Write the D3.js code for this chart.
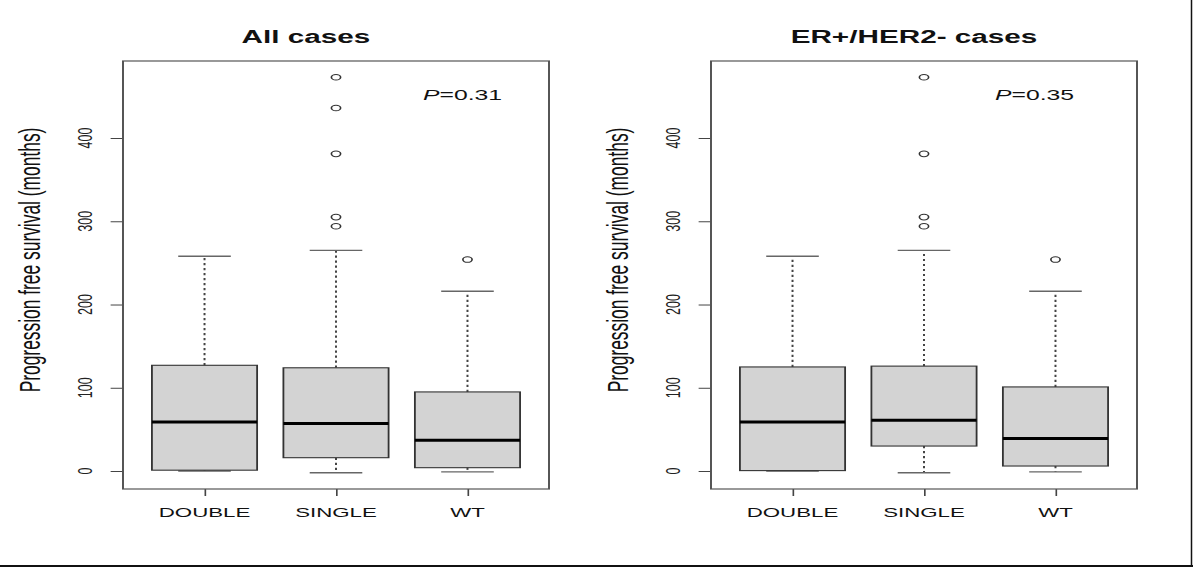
<!doctype html>
<html>
    <head>
        <title>PFS boxplots</title>
        <script src="https://d3js.org/d3.v7.min.js"></script>
        <style>
            body { margin: 0; background: #fff; }
            text { font-family: "Liberation Sans", Arial, sans-serif; }
        </style>
    </head>

    <body>
        <div id="my_dataviz"></div>
        <script>
            // data: [lower whisker, q1, median, q3, upper whisker]
            var categories = ["DOUBLE", "SINGLE", "WT"];
            var yTicks = [0, 100, 200, 300, 400];

            var allStats = [
                [0, 1, 59, 127, 258],
                [-2, 16, 57, 124, 265],
                [-1, 4, 37, 95, 216]
            ];
            var allOutliers = [[], [473, 436, 381, 305, 294], [254]];

            var erStats = [
                [0, 0.5, 59, 125, 258],
                [-2, 30, 61, 126, 265],
                [-1, 6, 39, 101, 216]
            ];
            var erOutliers = [[], [473, 381, 305, 294], [254]];

            var panels = [
                {title: "All cases", pval: "0.31", stats: allStats, outliers: allOutliers},
                {title: "ER+/HER2- cases", pval: "0.35", stats: erStats, outliers: erOutliers}
            ];

            // the original picture is stretched sideways, so draw in a narrow
            // coordinate system and scale it horizontally
            var SX = 1.65;
            var W = 1193, H = 567;

            // frame positions in final pixels
            var frames = [
                {left: 123, right: 549, titleX: 306, pX: 423},
                {left: 711, right: 1137, titleX: 914, pX: 995}
            ];
            var frameTop = 61, frameBottom = 489;

            var svg = d3.select("#my_dataviz")
                .append("svg")
                    .attr("width", W)
                    .attr("height", H);

            // outer border lines of the picture
            svg.append("line").attr("x1", 0).attr("x2", W).attr("y1", 566).attr("y2", 566)
                .attr("stroke", "#111").attr("stroke-width", 2);
            svg.append("line").attr("x1", 1191.5).attr("x2", 1191.5).attr("y1", 0).attr("y2", H)
                .attr("stroke", "#111").attr("stroke-width", 1.5);

            var root = svg.append("g")
                .attr("transform", "scale(" + SX + ",1)");

            var y = d3.scaleLinear()
                .domain([-21.6, 492.5])
                .range([frameBottom, frameTop]);

            panels.forEach(function(p, i) {
                var f = frames[i];
                var left = f.left / SX, right = f.right / SX;

                // R style: groups at 1..3, box width 0.8, staple half of that
                var x = d3.scaleLinear()
                    .domain([0.38, 3.62])
                    .range([left, right]);
                var boxW = x(1.8) - x(1);
                var capW = boxW / 2;

                var g = root.append("g");

                // title
                g.append("text")
                    .attr("x", f.titleX / SX)
                    .attr("y", 43)
                    .attr("text-anchor", "middle")
                    .attr("font-weight", "bold")
                    .attr("font-size", 18)
                    .attr("fill", "#111")
                    .text(p.title);

                // y axis
                var yAxis = g.append("g")
                    .attr("transform", "translate(" + left + ",0)")
                    .call(d3.axisLeft(y).tickValues(yTicks).tickSize(7.5).tickFormat(""));
                yAxis.select(".domain").remove();
                yAxis.selectAll(".tick line").attr("stroke", "#444");

                g.selectAll(".ylab")
                    .data(yTicks)
                    .enter()
                    .append("text")
                        .attr("class", "ylab")
                        .attr("transform", function(d) {
                            return "translate(" + ((f.left - 31) / SX) + "," + y(d) + ") rotate(-90)";
                        })
                        .attr("text-anchor", "middle")
                        .attr("font-size", 12.5)
                        .attr("fill", "#222")
                        .text(function(d) { return d; });

                // y axis title
                g.append("text")
                    .attr("transform", "translate(" + ((f.left - 83) / SX) + "," + 260 + ") rotate(-90)")
                    .attr("text-anchor", "middle")
                    .attr("font-size", 17.4)
                    .attr("fill", "#111")
                    .text("Progression free survival (months)");

                // x axis
                var xAxis = g.append("g")
                    .attr("transform", "translate(0," + frameBottom + ")")
                    .call(d3.axisBottom(x).tickValues([1, 2, 3]).tickSize(7).tickFormat(""));
                xAxis.select(".domain").remove();
                xAxis.selectAll(".tick line").attr("stroke", "#444");

                g.selectAll(".xlab")
                    .data(categories)
                    .enter()
                    .append("text")
                        .attr("class", "xlab")
                        .attr("x", function(d, k) { return x(k + 1); })
                        .attr("y", 517)
                        .attr("text-anchor", "middle")
                        .attr("font-size", 13.5)
                        .attr("fill", "#111")
                        .text(function(d) { return d; });

                // boxes
                p.stats.forEach(function(s, k) {
                    var cx = x(k + 1);

                    // dashed whiskers
                    g.append("line")
                        .attr("x1", cx).attr("x2", cx)
                        .attr("y1", y(s[3])).attr("y2", y(s[4]))
                        .attr("stroke", "#444").attr("stroke-width", 1.2)
                        .attr("stroke-dasharray", "2.2,2.8");
                    g.append("line")
                        .attr("x1", cx).attr("x2", cx)
                        .attr("y1", y(s[1])).attr("y2", y(s[0]))
                        .attr("stroke", "#444").attr("stroke-width", 1.2)
                        .attr("stroke-dasharray", "2.2,2.8");

                    // staples
                    [s[0], s[4]].forEach(function(v) {
                        g.append("line")
                            .attr("x1", cx - capW / 2).attr("x2", cx + capW / 2)
                            .attr("y1", y(v)).attr("y2", y(v))
                            .attr("stroke", "#666").attr("stroke-width", 1.4);
                    });

                    // box
                    g.append("rect")
                        .attr("x", cx - boxW / 2)
                        .attr("y", y(s[3]))
                        .attr("width", boxW)
                        .attr("height", y(s[1]) - y(s[3]))
                        .attr("fill", "#d3d3d3")
                        .attr("stroke", "#333")
                        .attr("stroke-width", 1.1);

                    // median
                    g.append("line")
                        .attr("x1", cx - boxW / 2).attr("x2", cx + boxW / 2)
                        .attr("y1", y(s[2])).attr("y2", y(s[2]))
                        .attr("stroke", "#000").attr("stroke-width", 3);

                    // outliers
                    g.selectAll(".out" + k)
                        .data(p.outliers[k])
                        .enter()
                        .append("circle")
                            .attr("cx", cx)
                            .attr("cy", function(d) { return y(d); })
                            .attr("r", 2.8)
                            .attr("fill", "none")
                            .attr("stroke", "#333")
                            .attr("stroke-width", 1);
                });

                // frame
                g.append("rect")
                    .attr("x", left)
                    .attr("y", frameTop)
                    .attr("width", right - left)
                    .attr("height", frameBottom - frameTop)
                    .attr("fill", "none")
                    .attr("stroke", "#555")
                    .attr("stroke-width", 1.2);

                // P value, P in italics
                var pt = g.append("text")
                    .attr("x", f.pX / SX)
                    .attr("y", 100)
                    .attr("font-size", 15)
                    .attr("fill", "#111");
                pt.append("tspan").attr("font-style", "italic").text("P");
                pt.append("tspan").text("=" + p.pval);
            });
        </script>
    </body>
</html>
